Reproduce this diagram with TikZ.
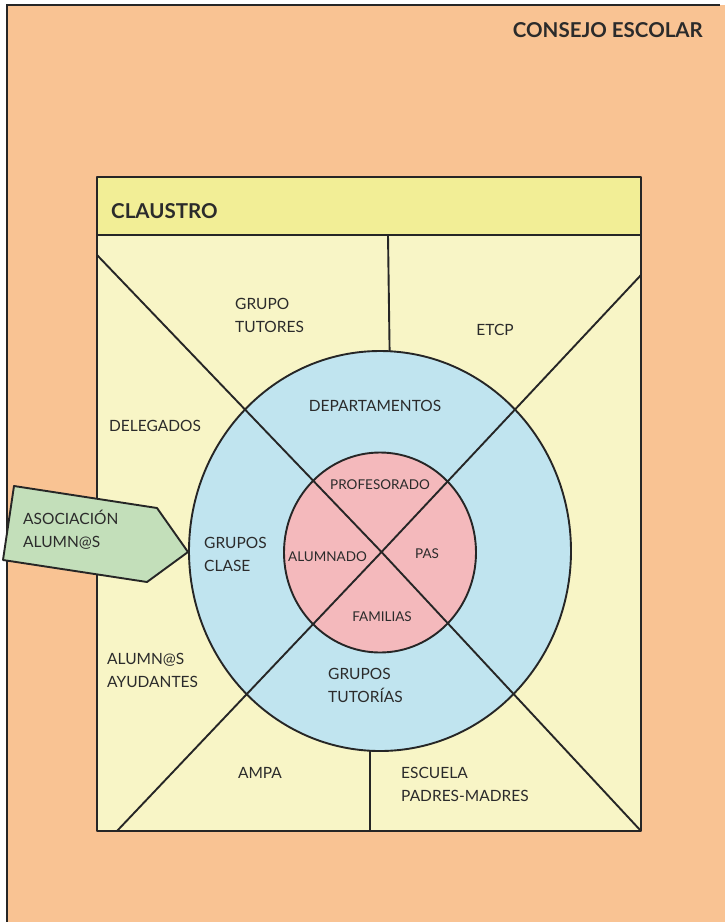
\documentclass[tikz,border=0pt]{standalone}
\usepackage{fontspec}
\setmainfont{Lato}
\definecolor{orangebg}{HTML}{F9C393}
\definecolor{headcol}{HTML}{F2EE96}
\definecolor{bodycol}{HTML}{F8F5C6}
\definecolor{bluecol}{HTML}{C0E4EF}
\definecolor{pinkcol}{HTML}{F4B9BC}
\definecolor{greencol}{HTML}{C3DFBA}
\definecolor{inkcol}{HTML}{262626}
\definecolor{txtcol}{HTML}{2B2B2B}
\begin{document}
\begin{tikzpicture}[x=1pt,y=-1pt,
  ln/.style={draw=inkcol,line width=1.9pt,line join=round},
  frame/.style={draw=inkcol,line width=1.6pt},
  lbl/.style={text=txtcol,inner sep=0pt,font=\fontsize{15.5}{23}\selectfont,align=left},
  inlbl/.style={text=txtcol,inner sep=0pt,font=\fontsize{13.5}{16}\selectfont},
  ttl/.style={text=txtcol,inner sep=0pt,font=\fontsize{20.5}{24}\selectfont\bfseries}]
\useasboundingbox (0,0) rectangle (725,922);
\fill[white] (0,0) rectangle (725,922);
\fill[orangebg] (7,5) rectangle (725,922);
\draw[frame] (7,922) -- (7,5) -- (720,5);
% claustro box
\fill[bodycol] (97,235) rectangle (641,831);
\fill[headcol] (97,177) rectangle (641,235);
\coordinate (hl) at (97,235);
\coordinate (hr) at (641,235);
\draw[ln] (97,177) rectangle (641,831);
\draw[ln] (hl) -- (hr);
% dividers
\coordinate (dt1) at (388,235);
\coordinate (dt2) at (390,380);
\coordinate (db1) at (370,720);
\coordinate (db2) at (370,831);
\draw[ln] (dt1) -- (dt2);
\draw[ln] (db1) -- (db2);
% circles
\coordinate (C) at (380,551);
\draw[ln,fill=bluecol] (C) ellipse [x radius=191pt,y radius=200pt];
\draw[ln,fill=pinkcol] (380,552.5) ellipse [x radius=96pt,y radius=100pt];
% diagonals
\coordinate (X) at (381.5,552);
\coordinate (tl) at (97,255);
\coordinate (br) at (641,831);
\coordinate (tr) at (641,275);
\coordinate (bl) at (117,831);
\draw[ln] (tl) -- (X) -- (br);
\draw[ln] (tr) -- (X) -- (bl);
% arrow
\draw[ln,fill=greencol] (14,486) -- (157,508) -- (188,552) -- (147,582) -- (3,560) -- cycle;
% texts
\node[ttl,anchor=east] (consejo) at (703,30) {CONSEJO ESCOLAR};
\node[ttl,anchor=west] (claustro) at (111,211) {CLAUSTRO};
\node[lbl,anchor=west] (tutores) at (235,315.5) {GRUPO\\TUTORES};
\node[lbl] (etcp) at (495,330) {ETCP};
\node[lbl] (dep) at (375,406) {DEPARTAMENTOS};
\node[lbl,anchor=west] (deleg) at (109,426) {DELEGADOS};
\node[lbl,anchor=west] (gclase) at (204,554.5) {GRUPOS\\CLASE};
\node[lbl,anchor=west] (asoc) at (23,530) {ASOCIACIÓN\\ALUMN@S};
\node[inlbl] (prof) at (380,485) {PROFESORADO};
\node[inlbl,anchor=west] (alum) at (288,557) {ALUMNADO};
\node[inlbl] (pas) at (427,554) {PAS};
\node[inlbl] (fam) at (382,617) {FAMILIAS};
\node[lbl,anchor=west] (gtut) at (328,685.5) {GRUPOS\\TUTORÍAS};
\node[lbl,anchor=west] (ayud) at (107,670.5) {ALUMN@S\\AYUDANTES};
\node[lbl] (ampa) at (260,773) {AMPA};
\node[lbl,anchor=west] (escuela) at (401,784.5) {ESCUELA\\PADRES-MADRES};
\end{tikzpicture}
\end{document}
